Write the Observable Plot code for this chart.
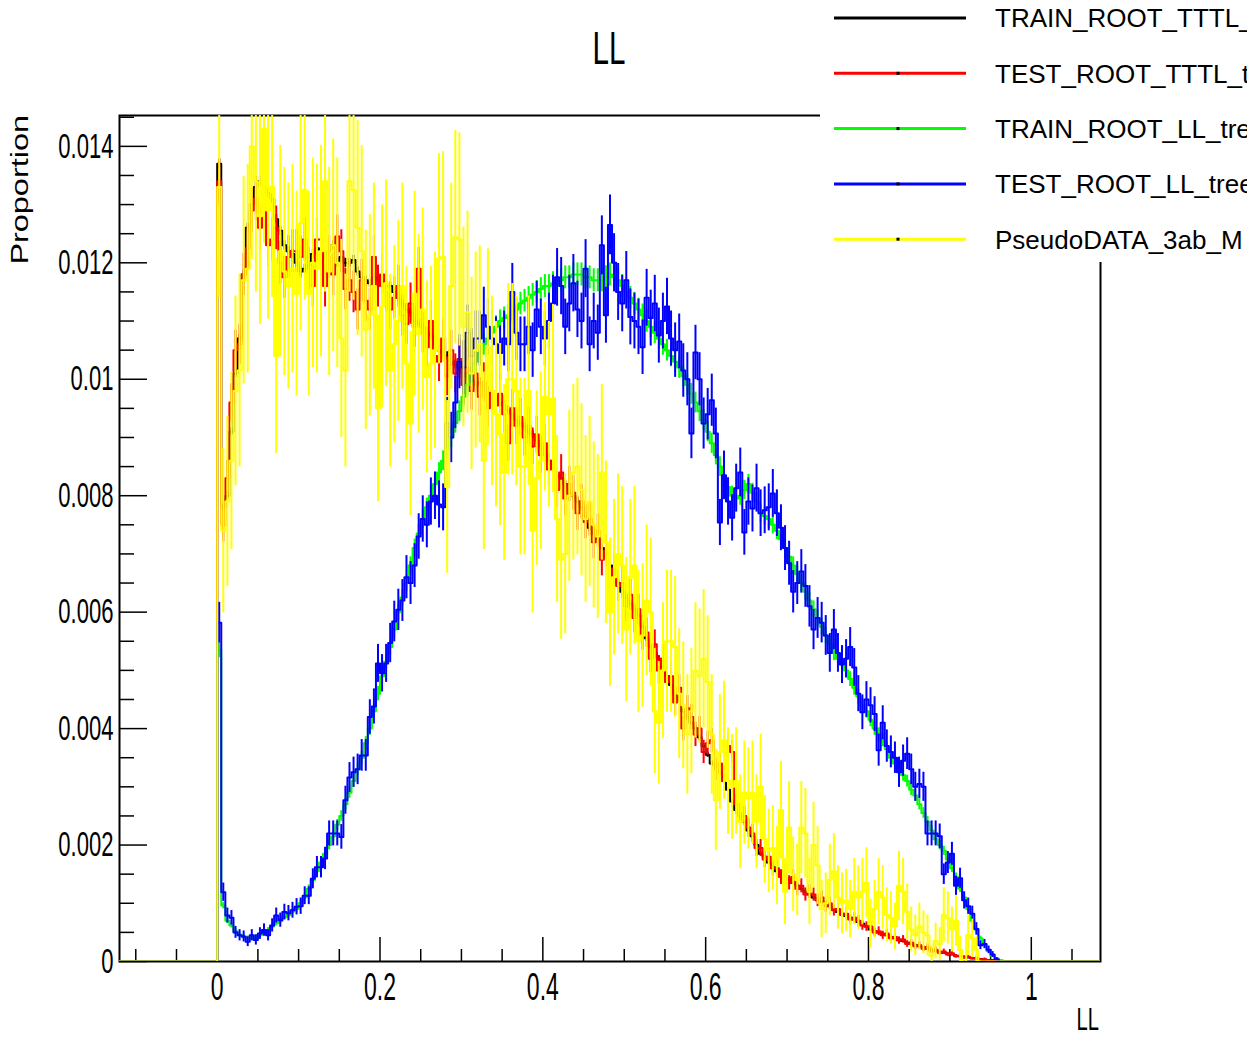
<!DOCTYPE html>
<html><head><meta charset="utf-8">
<script src="https://cdn.jsdelivr.net/npm/d3@7"></script>
<script src="https://cdn.jsdelivr.net/npm/@observablehq/plot@0.6"></script>
<style>
body{margin:0;background:#fff;}
#wrap{position:relative;width:1247px;height:1037px;overflow:hidden;background:#fff;}
#chart{position:absolute;left:0;top:0;}
</style></head><body>
<div id="wrap"><div id="chart"></div></div>
<script>
// ---- data (bin contents in units of 1e-3, bins of width 0.005 starting at 0) ----
const unit = 1e-3;
const binStart = 0, binWidth = 0.005;

const trainTTTL = [
13.7,7.8,8.0,9.1,10.1,10.7,11.8,12.6,13.0,13.3,
13.4,13.3,13.2,13.1,12.75,12.55,12.3,12.2,12.15,12.0,
11.85,11.9,11.95,12.15,12.25,12.1,12.1,12.2,12.3,12.0,
12.1,12.0,12.0,12.05,11.85,11.75,11.7,11.65,11.75,11.7,
11.7,11.6,11.6,11.5,11.4,11.3,11.2,11.15,11.0,10.95,
10.9,10.8,10.75,10.6,10.5,10.45,10.4,10.3,10.25,10.2,
10.1,10.05,10.0,9.9,9.95,9.85,9.8,9.75,9.7,9.6,
9.55,9.47,9.4,9.3,9.25,9.18,9.1,9.05,8.95,8.85,
8.7,8.6,8.5,8.35,8.3,8.2,8.05,8.0,7.9,7.8,
7.6,7.45,7.35,7.25,7.1,6.95,6.8,6.65,6.5,6.35,
6.25,6.15,6.05,5.95,5.75,5.55,5.4,5.3,5.2,5.05,
4.9,4.75,4.6,4.5,4.3,4.2,4.1,4.0,3.85,3.7,
3.55,3.4,3.35,3.25,3.15,2.95,2.75,2.6,2.5,2.4,
2.25,2.15,2.0,1.85,1.8,1.7,1.65,1.55,1.5,1.45,
1.4,1.35,1.3,1.25,1.2,1.15,1.1,1.05,1.02,1.0,
0.95,0.9,0.85,0.82,0.78,0.75,0.72,0.68,0.65,0.6,
0.55,0.52,0.5,0.47,0.45,0.42,0.4,0.38,0.35,0.32,
0.3,0.28,0.26,0.24,0.22,0.2,0.18,0.16,0.15,0.13,
0.12,0.1,0.09,0.08,0.07,0.06,0.05,0.04,0.03,0.02,
0.02,0.01,0];

const testTTTL = [
13.4,7.5,8.3,9.6,10.5,10.6,11.8,12.25,12.9,13.1,
12.6,13.0,12.3,12.4,12.6,12.0,11.75,12.1,12.2,12.2,
12.1,12.4,11.9,11.6,12.4,12.4,11.6,12.1,11.8,12.45,
12.2,11.55,11.7,11.5,11.2,11.7,11.35,11.2,12.1,11.6,
11.8,11.5,11.2,11.4,11.6,11.1,10.95,11.3,10.9,11.9,
10.8,10.55,11.0,10.4,10.3,10.7,10.05,10.5,10.1,10.35,
9.9,10.2,9.8,10.1,9.7,9.95,9.5,9.8,9.55,9.75,
9.4,8.9,9.5,9.2,9.35,9.0,9.2,8.85,9.05,8.7,
8.9,8.45,8.6,8.1,8.4,7.95,8.2,8.05,7.7,7.9,
7.55,7.6,7.2,7.4,6.9,7.05,6.6,6.75,6.45,6.5,
6.1,6.3,5.9,6.05,5.6,5.65,5.2,5.45,5.0,5.2,
4.8,4.9,4.45,4.7,4.0,4.35,4.2,3.9,4.0,3.6,
3.75,3.8,3.3,3.4,3.1,3.7,3.6,2.7,2.55,2.5,
2.3,2.2,1.95,1.95,1.75,1.8,1.6,1.6,1.45,1.5,
1.35,1.45,1.25,1.3,1.15,1.2,1.15,1.05,1.1,0.95,
1.0,0.88,0.9,0.8,0.82,0.72,0.75,0.7,0.62,0.6,
0.6,0.5,0.52,0.45,0.48,0.4,0.42,0.36,0.38,0.3,
0.32,0.26,0.28,0.22,0.25,0.18,0.2,0.15,0.17,0.12,
0.14,0.09,0.1,0.07,0.08,0.05,0.06,0.03,0.04,0.02,
0.01,0.01,0];

const trainLL = [
5.35,0.96,0.7,0.62,0.52,0.46,0.42,0.4,0.4,0.42,
0.45,0.5,0.54,0.6,0.66,0.7,0.76,0.8,0.86,0.9,
1.0,1.1,1.25,1.4,1.55,1.7,1.85,2.0,2.15,2.35,
2.5,2.7,2.9,3.1,3.3,3.5,3.75,4.0,4.3,4.6,
4.9,5.15,5.4,5.7,6.0,6.25,6.5,6.8,7.1,7.35,
7.6,7.8,8.0,8.2,8.4,8.6,8.8,9.0,9.25,9.45,
9.7,9.9,10.1,10.3,10.45,10.6,10.7,10.8,10.9,11.0,
11.05,11.1,11.15,11.2,11.3,11.35,11.4,11.45,11.5,11.55,
11.6,11.6,11.65,11.7,11.7,11.75,11.75,11.8,11.8,11.8,
11.75,11.75,11.7,11.7,11.7,11.75,11.8,11.75,11.7,11.6,
11.5,11.4,11.3,11.2,11.1,11.0,10.9,10.8,10.7,10.6,
10.5,10.4,10.3,10.2,10.05,9.9,9.75,9.6,9.45,9.3,
9.1,8.9,8.7,8.5,8.3,8.15,8.0,7.95,8.0,8.1,
8.2,8.05,7.9,7.7,7.65,7.6,7.5,7.4,7.25,7.1,
6.95,6.8,6.65,6.5,6.35,6.2,6.05,5.9,5.75,5.6,
5.45,5.3,5.2,5.1,5.0,4.85,4.7,4.55,4.4,4.3,
4.15,4.0,3.9,3.8,3.65,3.5,3.4,3.3,3.2,3.1,
2.95,2.85,2.7,2.55,2.4,2.25,2.1,2.0,1.9,1.75,
1.6,1.45,1.25,1.1,0.9,0.7,0.55,0.4,0.28,0.18,
0.1,0.05,0.02];

const testLL = [
5.82,1.19,0.79,0.75,0.5,0.45,0.43,0.34,0.45,0.37,
0.48,0.54,0.45,0.62,0.79,0.71,0.85,0.83,0.88,0.94,
0.95,1.13,1.13,1.42,1.62,1.62,1.77,2.2,2.2,2.2,
2.14,2.77,3.16,3.25,3.3,3.54,3.54,4.2,4.38,5.12,
4.95,5.12,5.47,5.84,6.04,6.2,6.6,6.5,6.8,7.3,
7.6,7.5,7.9,8.0,7.85,7.8,9.25,9.0,9.6,10.3,
10.2,10.8,10.4,10.7,10.7,11.1,10.9,10.7,10.6,10.45,
10.7,10.6,11.5,10.8,10.6,10.6,10.9,10.5,11.2,10.9,
10.7,11.0,11.3,11.75,11.6,10.9,11.3,11.65,11.2,11.0,
11.9,10.6,11.0,10.8,12.3,11.1,12.65,12.0,11.5,11.3,
11.7,11.07,11.0,10.9,10.55,11.4,11.05,11.3,10.75,11.0,
11.25,10.7,10.5,10.65,10.15,10.0,9.07,10.46,10.0,9.24,
9.4,9.64,9.07,7.54,8.35,7.9,7.62,8.13,8.4,7.37,
7.9,7.78,8.13,7.7,7.75,7.8,8.04,7.7,7.45,7.1,
6.84,6.35,6.5,6.7,6.45,6.1,5.7,5.9,5.82,5.6,
5.3,5.7,5.3,5.1,5.2,5.4,5.05,4.6,4.28,4.5,
4.4,4.25,3.63,4.1,3.7,3.6,3.5,3.25,3.45,3.57,
3.3,3.0,3.05,3.0,2.2,2.2,2.2,2.15,1.5,1.7,
1.85,1.3,1.43,1.05,0.95,0.82,0.56,0.28,0.3,0.2,
0.12,0.04,0];

const pseudoData = [
13.3,7.4,7.9,8.6,9.8,10.15,11.7,11.9,14.0,13.4,
12.8,14.3,12.9,13.3,10.4,12.2,11.85,11.6,11.9,11.47,
12.68,13.25,11.47,12.0,11.9,12.2,13.4,11.85,12.3,12.0,
10.7,10.15,13.4,13.25,12.6,12.2,10.85,11.1,11.6,9.5,
11.25,11.65,10.15,10.6,11.0,11.6,10.27,9.24,11.47,10.78,
11.2,10.04,10.27,10.5,12.07,12.1,8.15,11.6,12.44,12.4,
10.9,11.15,10.1,10.5,10.6,8.6,10.55,9.8,9.4,9.05,
8.4,10.0,10.0,9.8,8.5,8.5,9.8,7.4,8.3,8.6,
9.7,9.4,9.67,7.6,6.9,7.0,8.0,8.4,8.5,8.1,
7.6,7.9,7.5,7.3,8.4,7.2,6.0,6.6,7.0,6.8,
5.7,6.6,6.8,5.5,5.6,6.2,6.0,4.3,4.1,5.0,
5.5,5.5,5.4,4.6,4.4,3.9,4.3,5.0,4.9,5.2,
4.8,3.9,2.77,3.6,3.8,3.1,3.0,3.1,2.4,2.9,
2.8,2.9,2.4,3.0,2.1,1.9,1.95,1.65,2.6,1.2,
2.3,1.5,1.4,2.3,2.2,1.2,2.0,1.65,0.9,1.0,
1.4,1.55,1.1,1.0,1.05,0.9,1.2,1.1,1.2,1.35,
0.65,0.9,1.2,1.1,0.8,0.75,0.6,1.3,1.2,0.85,
0.55,0.45,0.6,0.5,0.45,0.1,0.35,0.3,0.8,0.75,
0.55,0.7,0.2,0,0.45,0.4,0.2,0,0,0,
0,0,0];

const seriesNames = ["TRAIN_ROOT_TTTL_tree","TEST_ROOT_TTTL_tree","TRAIN_ROOT_LL_tree","TEST_ROOT_LL_tree","PseudoDATA_3ab_M"];
const seriesColors = ["#000000","#ff0000","#00ff00","#0000ff","#ffff00"];
const seriesValues = [trainTTTL, testTTTL, trainLL, testLL, pseudoData];
const effectiveEntries = [2000000, 90000, 300000, 48000, 3700]; // sets error-bar sizes (Poisson)

const xTicks = [0, 0.2, 0.4, 0.6, 0.8, 1];
const yTicks = [0, 0.002, 0.004, 0.006, 0.008, 0.01, 0.012, 0.014];
const xDomain = [-0.12, 1.085];
const yDomain = [0, 0.01453];

// ---- layout ----
const W = 1247, H = 1037, mL = 119, mR = 147, mT = 115, mB = 76;
const fw = W - mL - mR, fh = H - mT - mB;
const FONT = "'Liberation Sans', Arial, Helvetica, sans-serif";

const xMinor = d3.range(-0.1, 1.0751, 0.05).map(v => +v.toFixed(3)).filter(v => !xTicks.some(t => Math.abs(t - v) < 1e-9));
const yMinor = d3.range(0, 0.01451, 0.0005).map(v => +v.toFixed(4)).filter(v => !yTicks.some(t => Math.abs(t - v) < 1e-9));

function stepPoints(vals) {
  const pts = [{x: xDomain[0], y: 0}, {x: binStart, y: 0}];
  vals.forEach((v, i) => {
    const x0 = binStart + i * binWidth;
    pts.push({x: x0, y: v * unit}, {x: x0 + binWidth, y: v * unit});
  });
  pts.push({x: binStart + vals.length * binWidth, y: 0}, {x: xDomain[1], y: 0});
  return pts;
}
function errBars(vals, n) {
  return vals.map((v, i) => {
    const p = v * unit, e = Math.sqrt(p / n);
    return {x: binStart + (i + 0.5) * binWidth, lo: p - e, hi: p + e, v: p};
  }).filter(d => d.v > 0);
}

const seriesMarks = [];
seriesValues.forEach((vals, k) => {
  seriesMarks.push(Plot.ruleX(errBars(vals, effectiveEntries[k]), {x: "x", y1: "lo", y2: "hi", stroke: seriesColors[k], strokeWidth: 2, clip: true}));
  seriesMarks.push(Plot.line(stepPoints(vals), {x: "x", y: "y", stroke: seriesColors[k], strokeWidth: 2, clip: true}));
});

const fmt = d3.format("~g");
const svg = Plot.plot({
  width: W, height: H,
  marginLeft: mL, marginRight: mR, marginTop: mT, marginBottom: mB,
  style: {fontFamily: FONT, color: "#000", background: "transparent", overflow: "visible"},
  x: {domain: xDomain},
  y: {domain: yDomain},
  marks: [
    Plot.frame({stroke: "#000", strokeWidth: 2}),
    Plot.ruleX(xMinor, {x: d => d, insetTop: fh - 12, stroke: "#000", strokeWidth: 1.5}),
    Plot.ruleX(xTicks, {x: d => d, insetTop: fh - 24, stroke: "#000", strokeWidth: 1.5}),
    Plot.ruleY(yMinor, {y: d => d, insetRight: fw - 15, stroke: "#000", strokeWidth: 1.5}),
    Plot.ruleY(yTicks, {y: d => d, insetRight: fw - 28, stroke: "#000", strokeWidth: 1.5}),
    ...seriesMarks,
    Plot.axisX(xTicks, {tickSize: 0, tickPadding: 11, fontSize: 39, tickFormat: fmt, label: null}),
    Plot.axisY(yTicks, {tickSize: 0, tickPadding: 6, fontSize: 35, tickFormat: fmt, label: null})
  ]
});
document.getElementById("chart").appendChild(svg);

function squeeze(sel, sx) {
  svg.querySelectorAll(sel).forEach(el => {
    const t = el.getAttribute("transform") || "";
    const x = parseFloat(el.getAttribute("x")) || 0;
    const y = parseFloat(el.getAttribute("y")) || 0;
    el.setAttribute("transform", `${t} translate(${x},${y}) scale(${sx},1) translate(${-x},${-y})`);
  });
}
squeeze('[aria-label="x-axis tick label"] text', 0.59);
squeeze('[aria-label="y-axis tick label"] text', 0.63);

// ---- overlay: title, axis titles, legend ----
const ov = d3.select("#wrap").append("svg")
  .attr("width", W).attr("height", H)
  .style("position", "absolute").style("left", 0).style("top", 0)
  .attr("font-family", FONT);

ov.append("text").text("LL").attr("text-anchor", "middle").attr("font-size", 47)
  .attr("transform", "translate(609,64) scale(0.63,1)");
ov.append("text").text("LL").attr("text-anchor", "end").attr("font-size", 32)
  .attr("transform", "translate(1099,1030) scale(0.63,1)");
ov.append("text").text("Proportion").attr("text-anchor", "end").attr("font-size", 23)
  .attr("transform", "translate(28,115) rotate(-90) scale(1.41,1)");

const lg = ov.append("g");
lg.append("rect").attr("x", 820).attr("y", 0).attr("width", W - 820).attr("height", 262).attr("fill", "#fff");
seriesNames.forEach((name, k) => {
  const y = 18 + k * 55.3;
  lg.append("line").attr("x1", 834).attr("x2", 966).attr("y1", y).attr("y2", y)
    .attr("stroke", seriesColors[k]).attr("stroke-width", 3);
  if (k > 0) lg.append("rect").attr("x", 896.5).attr("y", y - 1.5).attr("width", 3).attr("height", 3).attr("fill", "#000");
  lg.append("text").text(name).attr("x", 995).attr("y", y).attr("dy", "0.36em")
    .attr("font-size", 26).attr("fill", "#000");
});
</script>
</body></html>
